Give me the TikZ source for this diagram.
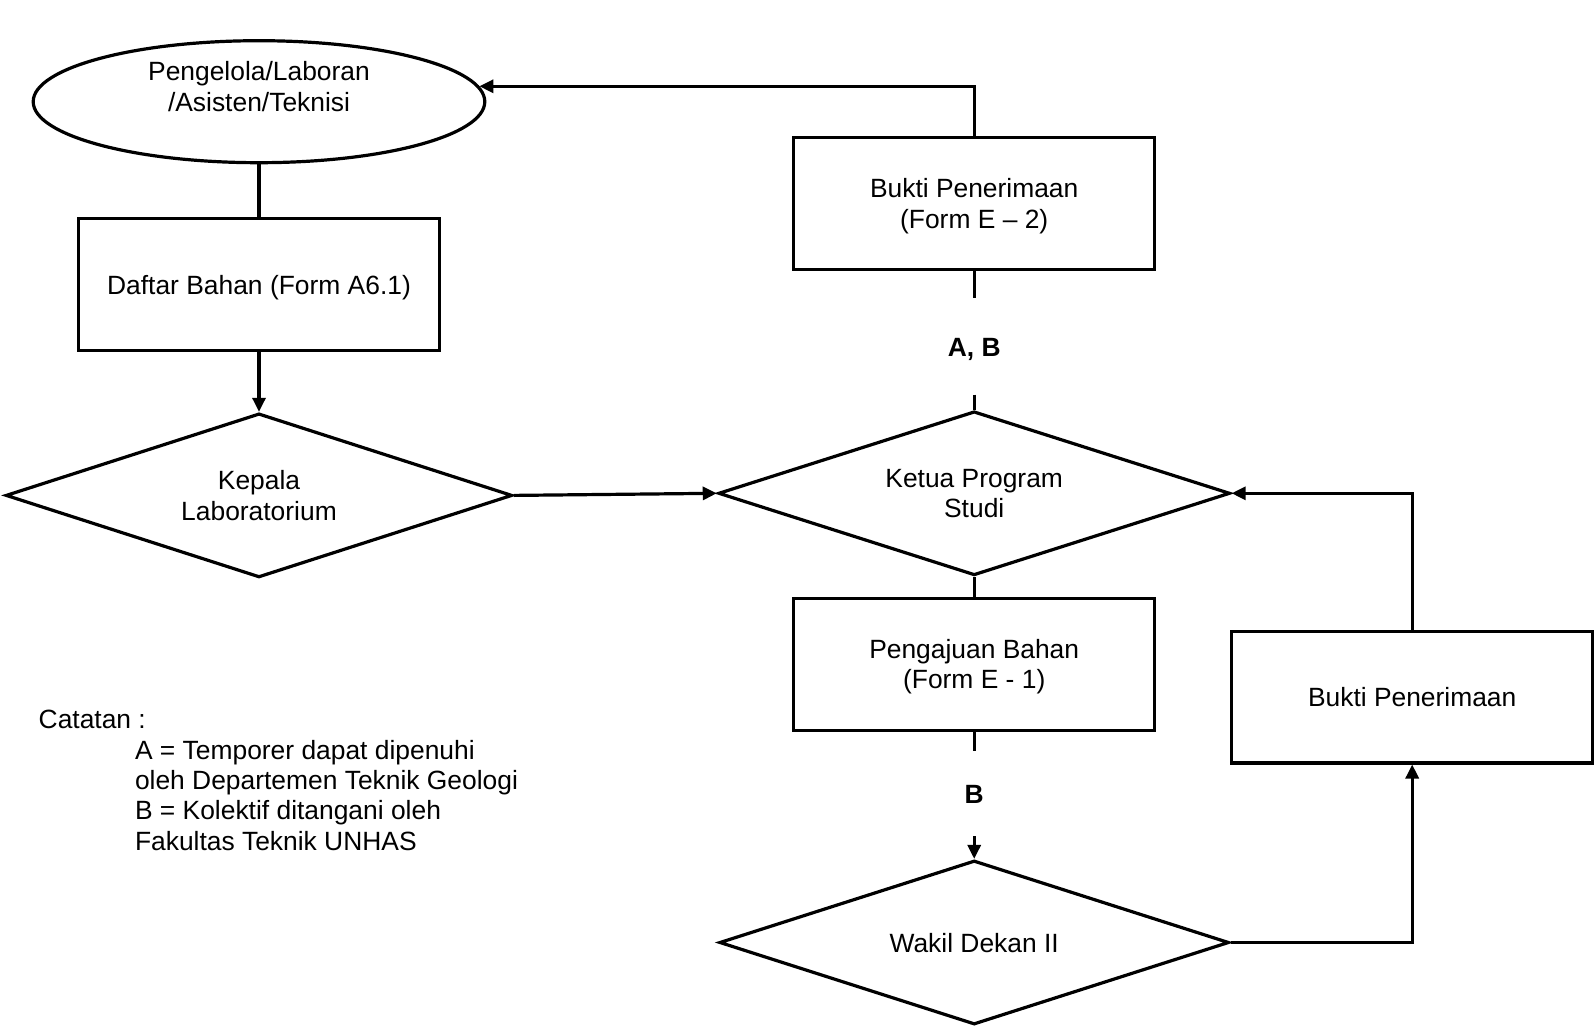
\documentclass[tikz,border=0pt]{standalone}
\usepackage{fontspec}
\setmainfont{Liberation Sans}
\usetikzlibrary{shapes.geometric,arrows.meta}
\begin{document}
\begin{tikzpicture}[x=1pt,y=-1pt,
  every node/.style={font=\fontsize{26.4}{30.4}\selectfont, align=center},
  base/.style={draw=black, line width=3.2pt, inner sep=0pt, text depth=-3pt},
  ell/.style={draw=black, line width=3.2pt, ellipse, minimum width=451.6pt, minimum height=122pt},
  boxn/.style={base, rectangle, minimum width=361pt, minimum height=132pt},
  dia/.style={base, diamond, aspect=3, minimum width=508pt, minimum height=164pt, text depth=-7pt},
  lbl/.style={font=\fontsize{26.4}{30.4}\selectfont\bfseries},
  note/.style={anchor=west, align=left, inner sep=0pt},
  conn/.style={line width=3.2pt},
  arr/.style={line width=3.2pt, -{Triangle[length=14pt,width=13pt]}}
]
\useasboundingbox (0,0) rectangle (1595,1025);

\node[ell] (pel) at (259,101.7) {};
\node (peltext) at (259,86.5) {Pengelola/Laboran\\/Asisten/Teknisi};
\node[boxn] (daftar) at (259,284.8) {Daftar Bahan (Form A6.1)};
\node[dia, minimum width=506.6pt] (kepala) at (259,495.4) {Kepala\\Laboratorium};
\node[dia, minimum width=511.7pt] (ketua) at (974.2,493.3) {Ketua Program\\Studi};
\node[boxn] (bukti1) at (974.2,203.5) {Bukti Penerimaan\\(Form E – 2)};
\node[boxn] (pengajuan) at (974.2,664.2) {Pengajuan Bahan\\(Form E - 1)};
\node[dia, minimum width=509.6pt] (wakil) at (974.2,942.5) {Wakil Dekan II};
\node[boxn, minimum height=131.2pt] (bukti2) at (1412.2,697.3) {Bukti Penerimaan};

\node[lbl] (ab) at (974.2,349.5) {A, B};
\node[lbl] (b) at (974.2,794.4) {B};

\coordinate (ab1) at (974.2,298);
\coordinate (ab2) at (974.2,394.7);
\coordinate (b1) at (974.2,750.7);
\coordinate (b2) at (974.2,836.1);

\draw[conn] (pel.south) -- (daftar.north);
\draw[arr] (daftar.south) -- (kepala.north);
\draw[arr] (kepala.east) -- (ketua.west);
\draw[arr] (bukti1.north) |- (pel.4.3);
\draw[conn] (bukti1.south) -- (ab1);
\draw[conn] (ab2) -- (ketua.north);
\draw[conn] (ketua.south) -- (pengajuan.north);
\draw[conn] (pengajuan.south) -- (b1);
\draw[arr] (b2) -- (wakil.north);
\draw[arr] (wakil.east) -| (bukti2.south);
\draw[arr] (bukti2.north) |- (ketua.east);

\node[note] (cat) at (38.5,719.2) {Catatan :};
\node[note] (n1) at (134.8,752.5) {A = Temporer dapat dipenuhi};
\node[note] (n2) at (134.8,782.5) {oleh Departemen Teknik Geologi};
\node[note] (n3) at (134.8,812.7) {B = Kolektif ditangani oleh};
\node[note] (n4) at (134.8,841.2) {Fakultas Teknik UNHAS};
\end{tikzpicture}
\end{document}
